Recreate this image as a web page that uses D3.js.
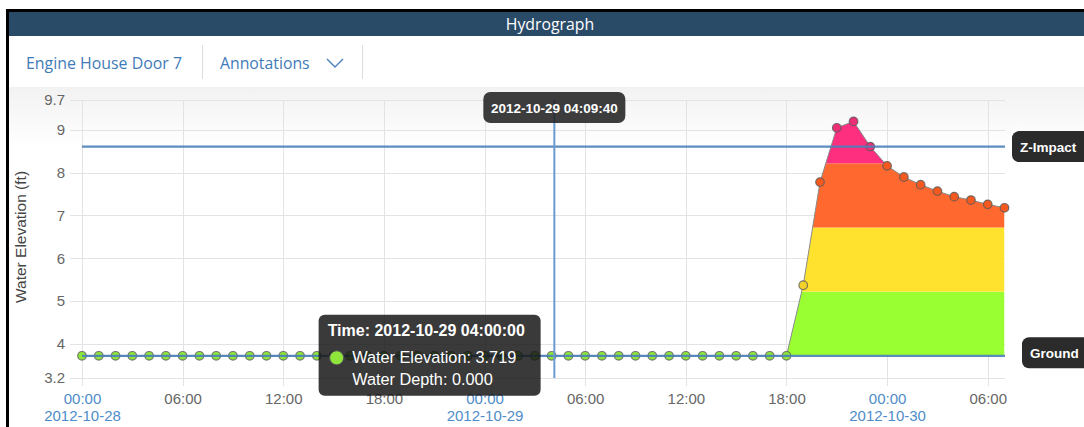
<!DOCTYPE html>
<html><head><meta charset="utf-8">
<script src="https://cdn.jsdelivr.net/npm/d3@7"></script>
<style>body{margin:0;background:#fff;overflow:hidden}svg{display:block}</style>
</head><body><svg id="c" width="1084" height="427"></svg>
<script>
// ---------------- data ----------------
const panelTitle = "Hydrograph";
const locationName = "Engine House Door 7";
const menuLabel = "Annotations";
const yAxisTitle = "Water Elevation (ft)";
const times = [
 "2012-10-28 00:00","2012-10-28 01:00","2012-10-28 02:00","2012-10-28 03:00","2012-10-28 04:00","2012-10-28 05:00",
 "2012-10-28 06:00","2012-10-28 07:00","2012-10-28 08:00","2012-10-28 09:00","2012-10-28 10:00","2012-10-28 11:00",
 "2012-10-28 12:00","2012-10-28 13:00","2012-10-28 14:00","2012-10-28 15:00","2012-10-28 16:00","2012-10-28 17:00",
 "2012-10-28 18:00","2012-10-28 19:00","2012-10-28 20:00","2012-10-28 21:00","2012-10-28 22:00","2012-10-28 23:00",
 "2012-10-29 00:00","2012-10-29 01:00","2012-10-29 02:00","2012-10-29 03:00","2012-10-29 04:00","2012-10-29 05:00",
 "2012-10-29 06:00","2012-10-29 07:00","2012-10-29 08:00","2012-10-29 09:00","2012-10-29 10:00","2012-10-29 11:00",
 "2012-10-29 12:00","2012-10-29 13:00","2012-10-29 14:00","2012-10-29 15:00","2012-10-29 16:00","2012-10-29 17:00",
 "2012-10-29 18:00","2012-10-29 19:00","2012-10-29 20:00","2012-10-29 21:00","2012-10-29 22:00","2012-10-29 23:00",
 "2012-10-30 00:00","2012-10-30 01:00","2012-10-30 02:00","2012-10-30 03:00","2012-10-30 04:00","2012-10-30 05:00",
 "2012-10-30 06:00","2012-10-30 07:00"
];
const elevations = [
 3.719,3.719,3.719,3.719,3.719,3.719,3.719,3.719,3.719,3.719,3.719,3.719,
 3.719,3.719,3.719,3.719,3.719,3.719,3.719,3.719,3.719,3.719,3.719,3.719,
 3.719,3.719,3.719,3.719,3.719,3.719,3.719,3.719,3.719,3.719,3.719,3.719,
 3.719,3.719,3.719,3.719,3.719,3.719,3.719,
 5.37,7.78,9.05,9.20,8.61,
 8.16,7.90,7.72,7.57,7.44,7.36,7.26,7.18
];
const groundElevation = 3.719;
const zImpactElevation = 8.61;
const depthThresholds = [1.5, 3.0, 4.5];
const bandColors = ["#99ff33", "#ffe22e", "#ff682e", "#ff2f7f"];
const pointColors = ["#8fe53a", "#f3d22a", "#f45a20", "#ea2f76"];
const yTickValues = [3.2, 4, 5, 6, 7, 8, 9, 9.7];
const yDomain = [3.2, 9.7];
const refLines = [{name: "Z-Impact", value: zImpactElevation}, {name: "Ground", value: groundElevation}];
const cursorTime = "2012-10-29 04:09:40";
const tooltipTime = "2012-10-29 04:00";
const tooltipTitle = "Time: 2012-10-29 04:00:00";
const tooltipDepthLabel = "Water Depth: ";

// ---------------- drawing ----------------
const parse = d3.timeParse("%Y-%m-%d %H:%M");
const parseSec = d3.timeParse("%Y-%m-%d %H:%M:%S");
const data = times.map((t, i) => ({t: parse(t), v: elevations[i]}));
const svg = d3.select("#c");
const SANS = "'Liberation Sans', Arial, sans-serif";
const UI = "'Open Sans', 'Noto Sans', sans-serif";

const defs = svg.append("defs");
const grad = defs.append("linearGradient").attr("id", "bg").attr("x1", 0).attr("y1", 0).attr("x2", 0).attr("y2", 1);
grad.append("stop").attr("offset", "0").attr("stop-color", "#f2f2f2");
grad.append("stop").attr("offset", "1").attr("stop-color", "#ffffff");

// frame + header
svg.append("rect").attr("x", 6).attr("y", 9).attr("width", 1090).attr("height", 430).attr("fill", "#000");
svg.append("rect").attr("x", 9).attr("y", 12).attr("width", 1090).attr("height", 430).attr("fill", "#fff");
svg.append("rect").attr("x", 9).attr("y", 12).attr("width", 1090).attr("height", 24).attr("fill", "#2a4b68");
svg.append("text").attr("x", 550).attr("y", 29.5).attr("text-anchor", "middle")
  .attr("font-family", UI).attr("font-size", 15.8).attr("fill", "#fff").text(panelTitle);

// toolbar
svg.append("text").attr("x", 26).attr("y", 68.5).attr("font-family", UI).attr("font-size", 15.9)
  .attr("fill", "#3f7bb8").text(locationName);
svg.append("text").attr("x", 220).attr("y", 68.5).attr("font-family", UI).attr("font-size", 15.8)
  .attr("fill", "#3f7bb8").text(menuLabel);
svg.append("path").attr("d", "M327,59 L335,67 L343,59").attr("fill", "none").attr("stroke", "#4a82bd").attr("stroke-width", 1.4);
[202.5, 362.5].forEach(sx => svg.append("line").attr("x1", sx).attr("x2", sx).attr("y1", 45).attr("y2", 79)
  .attr("stroke", "#dedede").attr("stroke-width", 1));

// chart background
svg.append("rect").attr("x", 9).attr("y", 87).attr("width", 1090).attr("height", 60).attr("fill", "url(#bg)");

// scales
const x = d3.scaleTime().domain([data[0].t, data[data.length - 1].t]).range([82, 1004.5]);
const y = d3.scaleLinear().domain(yDomain).range([378, 100]);
const xTicks = x.ticks(d3.timeHour.every(6));

// gridlines
const grid = svg.append("g");
grid.selectAll(".h").data(yTickValues).join("line")
  .attr("x1", 70).attr("x2", 1005).attr("y1", d => Math.round(y(d)) + 0.5).attr("y2", d => Math.round(y(d)) + 0.5)
  .attr("stroke", "#e3e3e3");
grid.selectAll(".v").data(xTicks).join("line")
  .attr("x1", d => Math.round(x(d)) + 0.5).attr("x2", d => Math.round(x(d)) + 0.5).attr("y1", 100).attr("y2", 386)
  .attr("stroke", "#e3e3e3");

// y axis
const yAxis = svg.append("g").attr("transform", "translate(82,0)")
  .call(d3.axisLeft(y).tickValues(yTickValues).tickSize(12).tickPadding(5).tickFormat(d => d));
yAxis.select(".domain").remove();
yAxis.selectAll(".tick line").remove();
yAxis.selectAll("text").attr("font-family", SANS).attr("font-size", 15).attr("fill", "#666");

svg.append("text").attr("transform", "translate(26,237) rotate(-90)").attr("text-anchor", "middle")
  .attr("font-family", SANS).attr("font-size", 15.5).attr("fill", "#444").text(yAxisTitle);

// x axis
const xAxis = svg.append("g").attr("transform", "translate(0,378)")
  .call(d3.axisBottom(x).tickValues(xTicks).tickSize(0).tickFormat(d3.timeFormat("%H:%M")));
xAxis.select(".domain").remove();
xAxis.selectAll(".tick text").remove();
xAxis.selectAll(".tick").each(function(d) {
  const g = d3.select(this);
  const isDay = d.getHours() === 0;
  g.append("text").attr("y", 26).attr("text-anchor", "middle").attr("font-family", SANS).attr("font-size", 15)
    .attr("fill", isDay ? "#4f8cc9" : "#666").text(d3.timeFormat("%H:%M")(d));
  if (isDay) g.append("text").attr("y", 43).attr("text-anchor", "middle").attr("font-family", SANS)
    .attr("font-size", 15).attr("fill", "#4f8cc9").text(d3.timeFormat("%Y-%m-%d")(d));
});

// colored depth area
const area = d3.area().x(d => x(d.t)).y0(y(groundElevation)).y1(d => y(d.v));
defs.append("clipPath").attr("id", "areaClip").append("path").attr("d", area(data));
const bounds = [groundElevation, ...depthThresholds.map(t => groundElevation + t), yDomain[1]];
svg.append("g").attr("clip-path", "url(#areaClip)").selectAll("rect").data(bandColors).join("rect")
  .attr("x", x(data[0].t)).attr("width", x(data[data.length - 1].t) - x(data[0].t))
  .attr("y", (c, i) => y(bounds[i + 1])).attr("height", (c, i) => y(bounds[i]) - y(bounds[i + 1]))
  .attr("fill", c => c);

svg.append("path").attr("d", d3.line().x(d => x(d.t)).y(d => y(d.v))(data))
  .attr("fill", "none").attr("stroke", "#8a8a8a").attr("stroke-width", 1);

// points
function level(v) {
  const depth = v - groundElevation;
  let k = 0;
  depthThresholds.forEach(t => { if (depth >= t) k++; });
  return k;
}
svg.append("g").selectAll("circle").data(data).join("circle")
  .attr("cx", d => x(d.t)).attr("cy", d => y(d.v)).attr("r", 4.3)
  .attr("fill", d => pointColors[level(d.v)]).attr("stroke", "#5a5a5a").attr("stroke-opacity", 0.8).attr("stroke-width", 1.2);

// reference lines
refLines.forEach(r => {
  svg.append("line").attr("x1", 82).attr("x2", 1005).attr("y1", y(r.value)).attr("y2", y(r.value))
    .attr("stroke", "#4a80b9").attr("stroke-width", 2.2).attr("stroke-opacity", 0.9);
});
const refBox = {"Z-Impact": {x: 1012, dy: 0}, "Ground": {x: 1022, dy: -3}};
refLines.forEach(r => {
  const cy = y(r.value) + refBox[r.name].dy;
  svg.append("rect").attr("x", refBox[r.name].x).attr("y", cy - 15.5).attr("width", 90).attr("height", 31)
    .attr("rx", 7).attr("fill", "#2b2b2b");
  svg.append("text").attr("x", refBox[r.name].x + 8).attr("y", cy + 5).attr("font-family", SANS).attr("font-weight", "bold")
    .attr("font-size", 13.5).attr("fill", "#fff").text(r.name);
});

// cursor
const cx = x(parseSec(cursorTime));
svg.append("line").attr("x1", cx).attr("x2", cx).attr("y1", 100).attr("y2", 378)
  .attr("stroke", "#6a9ad0").attr("stroke-width", 2);
svg.append("rect").attr("x", cx - 71).attr("y", 92).attr("width", 142).attr("height", 31).attr("rx", 7)
  .attr("fill", "#222").attr("fill-opacity", 0.88);
svg.append("text").attr("x", cx).attr("y", 112.5).attr("text-anchor", "middle").attr("font-family", SANS)
  .attr("font-weight", "bold").attr("font-size", 13.5).attr("fill", "#fff").text(cursorTime);

// tooltip
const tp = data.find(d => +d.t === +parse(tooltipTime));
const tx = x(tp.t) - 11 - 222, ty = y(tp.v) - 41;
const tt = svg.append("g").attr("transform", `translate(${tx},${ty})`);
tt.append("rect").attr("width", 222).attr("height", 81).attr("rx", 6).attr("fill", "#141414").attr("fill-opacity", 0.84);
tt.append("text").attr("x", 9).attr("y", 21).attr("font-family", SANS).attr("font-weight", "bold")
  .attr("font-size", 16).attr("fill", "#fff").text(tooltipTitle);
tt.append("circle").attr("cx", 18).attr("cy", 43).attr("r", 7).attr("fill", pointColors[level(tp.v)])
  .attr("stroke", "#555").attr("stroke-width", 1);
tt.append("text").attr("x", 33.5).attr("y", 48).attr("font-family", SANS).attr("font-size", 16.3).attr("fill", "#fff")
  .text("Water Elevation: " + d3.format(".3f")(tp.v));
tt.append("text").attr("x", 33.5).attr("y", 70).attr("font-family", SANS).attr("font-size", 16.3).attr("fill", "#fff")
  .text(tooltipDepthLabel + d3.format(".3f")(tp.v - groundElevation));
</script></body></html>
